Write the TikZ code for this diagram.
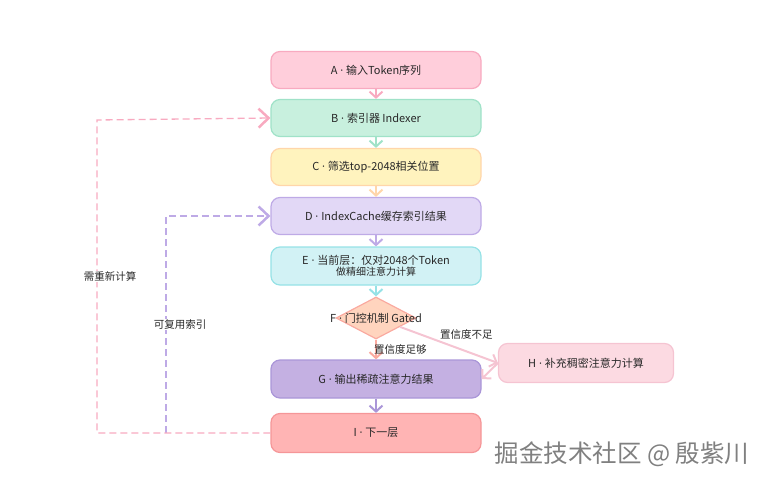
\documentclass[tikz,border=0pt]{standalone}
\usepackage{fontspec}
\setmainfont{Noto Sans CJK SC}
\newfontfamily\latinfont{Noto Sans}
\newcommand\mdot{{\latinfont\ ·\ }}
\usetikzlibrary{arrows.meta,shapes.geometric,positioning}

\definecolor{txt}{RGB}{40,40,40}
\definecolor{fillA}{RGB}{255,206,219}\definecolor{lineA}{RGB}{248,170,192}
\definecolor{fillB}{RGB}{200,240,222}\definecolor{lineB}{RGB}{160,226,200}
\definecolor{fillC}{RGB}{255,243,190}\definecolor{lineC}{RGB}{255,214,170}
\definecolor{fillD}{RGB}{226,216,246}\definecolor{lineD}{RGB}{190,170,230}
\definecolor{fillE}{RGB}{210,242,245}\definecolor{lineE}{RGB}{150,226,230}
\definecolor{fillF}{RGB}{255,212,190}\definecolor{lineF}{RGB}{250,170,160}
\definecolor{fillG}{RGB}{196,176,226}\definecolor{lineG}{RGB}{170,150,216}
\definecolor{fillH}{RGB}{252,218,226}\definecolor{lineH}{RGB}{245,196,210}
\definecolor{fillI}{RGB}{255,180,180}\definecolor{lineI}{RGB}{245,150,152}

\begin{document}
\begin{tikzpicture}[x=1pt,y=-1pt,
  stage/.style={draw,rounded corners=9pt,line width=1.2pt,minimum width=210pt,
    minimum height=37pt,inner sep=2pt,text=txt,font=\fontsize{11}{13}\selectfont},
  flow/.style={line width=2pt,-{Straight Barb[length=6pt,width=13pt]}},
  reuse/.style={line width=1.3pt,dash pattern=on 7pt off 4pt,
    -{Straight Barb[length=10pt,width=19pt,line width=2.5pt]}},
  lbl/.style={text=txt,font=\fontsize{10.5}{12}\selectfont,inner sep=1pt}]
  \useasboundingbox (0,0) rectangle (769,484);
  %main chain
  \node [stage,fill=fillA,draw=lineA] (A) at (376,70) {A\mdot 输入Token序列};
  \node [stage,fill=fillB,draw=lineB] (B) at (376,118) {B\mdot 索引器 Indexer};
  \node [stage,fill=fillC,draw=lineC] (C) at (376,167) {C\mdot 筛选top-2048相关位置};
  \node [stage,fill=fillD,draw=lineD] (D) at (376,216) {D\mdot IndexCache缓存索引结果};
  \node [stage,fill=fillE,draw=lineE,align=center,minimum height=38pt] (E) at (376,266)
    {E\mdot 当前层：仅对2048个Token\\[-1.5pt]{\fontsize{10}{10}\selectfont 做精细注意力计算}};
  \node [diamond,draw=lineF,fill=fillF,line width=1.2pt,minimum width=80pt,
    minimum height=42pt,inner sep=0pt] (F) at (376,318) {};
  \node [text=txt,font=\fontsize{11}{13}\selectfont] (Ftext) at (F) {F\mdot 门控机制 Gated};
  \node [stage,fill=fillG,draw=lineG,minimum height=38pt] (G) at (376,379) {G\mdot 输出稀疏注意力结果};
  \node [stage,fill=fillH,draw=lineH,minimum width=175pt,minimum height=39pt] (H) at (586,363)
    {H\mdot 补充稠密注意力计算};
  \node [stage,fill=fillI,draw=lineI,minimum height=39pt] (I) at (376,433) {I\mdot 下一层};
  \coordinate (split) at (166,433);
  %arrows between stages
  \draw [flow,lineA] (A) -- (B);
  \draw [flow,lineB] (B) -- (C);
  \draw [flow,lineC] (C) -- (D);
  \draw [flow,lineD] (D) -- (E);
  \draw [flow,lineE] (E) -- (F);
  \draw [flow,lineF] (F) -- (G) node [lbl,midway,right=-4pt] {置信度足够};
  \draw [flow,lineH] (F) -- (H.west) node [lbl,pos=0.35,above right=-2pt and 4pt] {置信度不足};
  \draw [flow,lineH] (H.west) -- (G.east);
  \draw [flow,lineG] (G) -- (I);
  %feedback loops
  \draw [reuse,lineD] (split) -- node [lbl,fill=white,xshift=14pt] {可复用索引}
    (166,216) -- (D.west);
  \draw [reuse,lineA] (I.west) -- (97,433) -- node [lbl,fill=white,xshift=13pt] {需重新计算}
    (97,120) -- (B.west);
  %watermark
  \node [text=black!50,font=\fontsize{24.5}{26}\selectfont] (mark) at (622,454)
    {掘金技术社区 @ 殷紫川};
\end{tikzpicture}
\end{document}
